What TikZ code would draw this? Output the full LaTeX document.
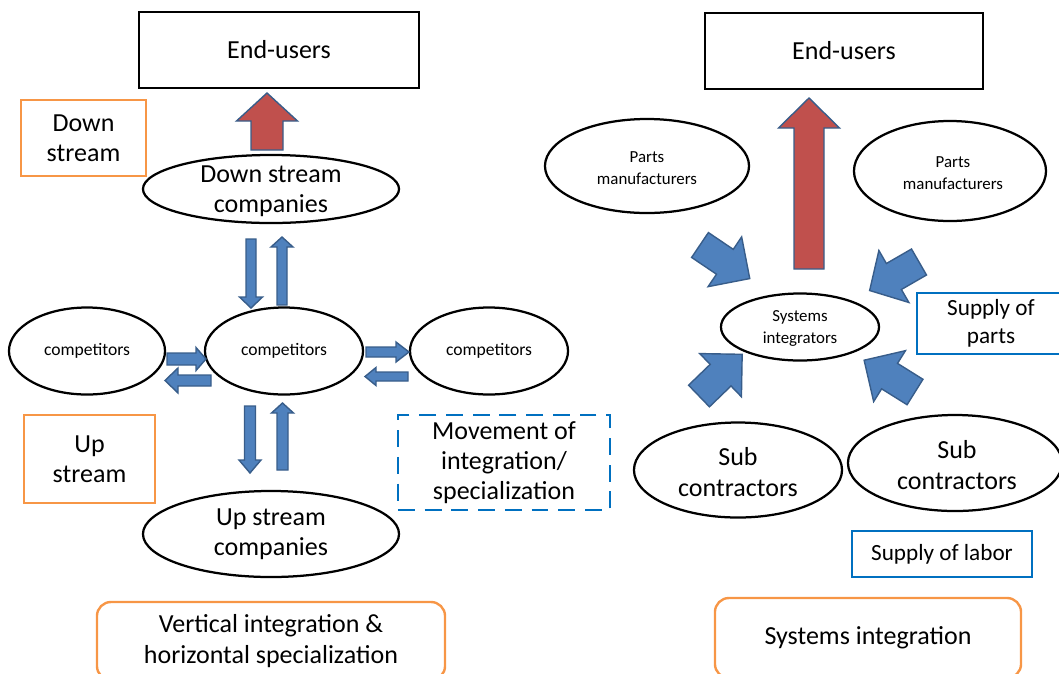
\documentclass[tikz,border=0pt]{standalone}
\usepackage{fontspec}
\setmainfont{Carlito}
\usetikzlibrary{shapes.geometric}
\definecolor{orangeC}{HTML}{F79646}
\definecolor{blueC}{HTML}{0070C0}
\definecolor{arrowFill}{HTML}{4F81BD}
\definecolor{arrowLine}{HTML}{385D8A}
\definecolor{redFill}{HTML}{C0504D}

% block arrow: style, tail x, tail y, angle, length, shaft half-width, head half-width, head length
\newcommand\blockarrow[8]{%
  \begin{scope}[shift={(#2,#3)},rotate=#4]
    \path[#1] (0,-#6) -- ({#5-#8},-#6) -- ({#5-#8},-#7) -- (#5,0)
      -- ({#5-#8},#7) -- ({#5-#8},#6) -- (0,#6) -- cycle;
  \end{scope}}

\begin{document}
\begin{tikzpicture}[x=0.025cm,y=-0.025cm,
  big/.style={font=\fontsize{18.5}{21.5}\selectfont, align=center, inner sep=0pt},
  mid/.style={font=\fontsize{16.5}{20}\selectfont, align=center, inner sep=0pt},
  small/.style={font=\fontsize{12.5}{15.5}\selectfont, align=center, inner sep=0pt},
  ell/.style={ellipse, draw=black, line width=1.6pt, inner sep=0pt},
  blackbox/.style={rectangle, draw=black, line width=1.9pt, inner sep=0pt},
  orangebox/.style={rectangle, draw=orangeC, line width=1.7pt, inner sep=0pt},
  orangeround/.style={orangebox, rounded corners=0.35cm},
  bluebox/.style={rectangle, draw=blueC, line width=1.7pt, inner sep=0pt},
  dashbox/.style={rectangle, draw=blueC, line width=1.5pt, dash pattern=on 12pt off 7pt, inner sep=0pt},
  bluearr/.style={fill=arrowFill, draw=arrowLine, line width=1pt, line join=miter},
  redarr/.style={fill=redFill, draw=arrowLine, line width=1pt, line join=miter}]
\useasboundingbox (0,0) rectangle (1059,673);
\clip (0,0) rectangle (1059,673);

% ---------- vertical integration & horizontal specialization ----------
\node[blackbox, big, minimum width=7cm, minimum height=1.9cm] (eu1) at (279,50) {End-users};
\node[orangebox, big, minimum width=3.125cm, minimum height=1.9cm] (ds) at (83.5,138) {Down\\stream};
\node[ell, minimum width=6.4cm, minimum height=1.7cm] (dsc) at (271,189) {};
\node[big] (dsc-t) at (271,191) {Down stream\\companies};

\node[ell, minimum width=3.9cm, minimum height=2.175cm] (c1) at (87,351) {};
\node[small] (c1-t) at (c1) {competitors};
\node[ell, minimum width=3.95cm, minimum height=2.175cm] (c2) at (284,351) {};
\node[small] (c2-t) at (c2) {competitors};
\node[ell, minimum width=3.95cm, minimum height=2.175cm] (c3) at (489,351) {};
\node[small] (c3-t) at (c3) {competitors};

\node[orangebox, big, minimum width=3.275cm, minimum height=2.2cm] (us) at (89.5,459) {Up\\stream};
\node[dashbox, big, minimum width=5.3cm, minimum height=2.375cm] (mv) at (504,462.5) {Movement of\\integration/\\specialization};
\node[ell, minimum width=6.4cm, minimum height=2.15cm] (usc) at (271,534) {};
\node[big] (usc-t) at (271,534) {Up stream\\companies};
\node[orangeround, big, font=\fontsize{18.5}{22.5}\selectfont, minimum width=8.7cm, minimum height=1.95cm] (vi) at (271,641) {Vertical integration \&\\horizontal specialization};

% ---------- systems integration ----------
\node[blackbox, big, minimum width=6.95cm, minimum height=1.9cm] (eu2) at (844,51) {End-users};
\node[ell, minimum width=5.1cm, minimum height=2.35cm] (pm1) at (647,166) {};
\node[small, font=\fontsize{12}{15.6}\selectfont] (pm1-t) at (647,168) {Parts\\manufacturers};
\node[ell, minimum width=4.8cm, minimum height=2.5cm] (pm2) at (950,171) {};
\node[small, font=\fontsize{12}{15.6}\selectfont] (pm2-t) at (953,173) {Parts\\manufacturers};
\node[ell, minimum width=3.95cm, minimum height=1.675cm] (si) at (800,327) {};
\node[small, font=\fontsize{12}{15.6}\selectfont] (si-t) at (800,328) {Systems\\integrators};
\node[bluebox, mid, font=\fontsize{16.5}{20}\selectfont, minimum width=3.7cm, minimum height=1.525cm] (sp) at (991,323.5) {Supply of\\parts};
\node[ell, minimum width=5.2cm, minimum height=2.375cm] (sc1) at (738,470) {};
\node[big, font=\fontsize{18.5}{22}\selectfont] (sc1-t) at (738,472) {Sub\\contractors};
\node[ell, minimum width=5.35cm, minimum height=2.4cm] (sc2) at (955,463) {};
\node[big, font=\fontsize{18.5}{22}\selectfont] (sc2-t) at (957,465) {Sub\\contractors};
\node[bluebox, mid, minimum width=4.5cm, minimum height=1.15cm] (sl) at (942,554) {Supply of labor};
\node[orangeround, big, minimum width=7.65cm, minimum height=2cm] (sint) at (868,638) {Systems integration};

% ---------- block arrows ----------
\blockarrow{redarr}{267}{150}{90}{57}{16}{30.5}{28}
\blockarrow{redarr}{809}{269}{90}{171}{15}{30.5}{30}

% between down stream companies and competitors
\blockarrow{bluearr}{251}{239}{-90}{69}{5}{11.5}{11}
\blockarrow{bluearr}{282}{305}{90}{68}{5}{11}{10}
% between competitors and up stream companies
\blockarrow{bluearr}{250}{406}{-90}{67}{5.5}{11}{13}
\blockarrow{bluearr}{282.5}{470}{90}{67}{5.5}{11}{10}
% among competitors
\blockarrow{bluearr}{167}{359}{0}{39}{6}{11.5}{10}
\blockarrow{bluearr}{211}{380.5}{180}{46}{5.5}{12.5}{13}
\blockarrow{bluearr}{366}{352}{0}{43}{5}{10}{13}
\blockarrow{bluearr}{408}{376.5}{180}{43}{4.5}{9}{11}

% supplies flowing into the systems integrators
\blockarrow{bluearr}{700}{245}{-34}{60}{15}{30}{30}
\blockarrow{bluearr}{919}{262}{210}{57}{15}{30}{28}
\blockarrow{bluearr}{699}{396}{44}{60}{15}{30}{30}
\blockarrow{bluearr}{915}{392}{148}{60}{15}{30}{30}
\end{tikzpicture}
\end{document}
